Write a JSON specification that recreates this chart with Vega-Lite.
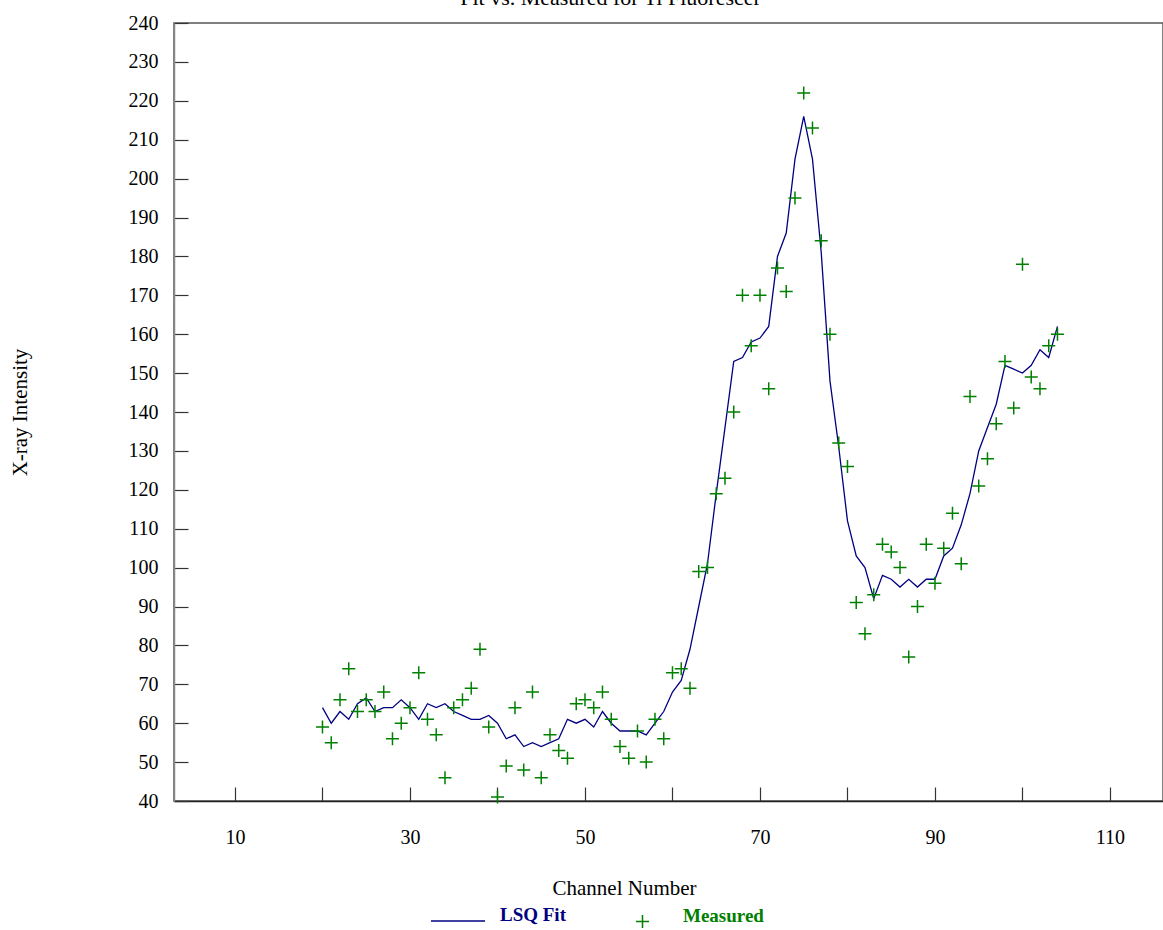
{
  "$schema": "https://vega.github.io/schema/vega-lite/v6.json",
  "width": 989,
  "height": 778,
  "autosize": {"type": "none"},
  "padding": {"left": 174, "top": 23, "right": 0, "bottom": 129},
  "background": "white",
  "title": {"text": "Fit vs. Measured for Ti Fluorescer", "frame": "group", "anchor": "middle", "offset": 0, "baseline": "alphabetic", "dx": -58, "dy": 14, "font": "Liberation Serif", "fontSize": 22, "fontWeight": "normal", "color": "black"},
  "config": {"view": {"stroke": "#555", "strokeWidth": 1.5}, "font": "Liberation Serif"},
  "data": {"values": [
    {"ch": 20, "meas": 59, "fit": 64}, {"ch": 21, "meas": 55, "fit": 60}, {"ch": 22, "meas": 66, "fit": 63}, {"ch": 23, "meas": 74, "fit": 61},
    {"ch": 24, "meas": 63, "fit": 65}, {"ch": 25, "meas": 66, "fit": 66.5}, {"ch": 26, "meas": 63, "fit": 63}, {"ch": 27, "meas": 68, "fit": 64},
    {"ch": 28, "meas": 56, "fit": 64}, {"ch": 29, "meas": 60, "fit": 66}, {"ch": 30, "meas": 64, "fit": 64}, {"ch": 31, "meas": 73, "fit": 61},
    {"ch": 32, "meas": 61, "fit": 65}, {"ch": 33, "meas": 57, "fit": 64}, {"ch": 34, "meas": 46, "fit": 65}, {"ch": 35, "meas": 64, "fit": 63},
    {"ch": 36, "meas": 66, "fit": 62}, {"ch": 37, "meas": 69, "fit": 61}, {"ch": 38, "meas": 79, "fit": 61}, {"ch": 39, "meas": 59, "fit": 62},
    {"ch": 40, "meas": 41, "fit": 60}, {"ch": 41, "meas": 49, "fit": 56}, {"ch": 42, "meas": 64, "fit": 57}, {"ch": 43, "meas": 48, "fit": 54},
    {"ch": 44, "meas": 68, "fit": 55}, {"ch": 45, "meas": 46, "fit": 54}, {"ch": 46, "meas": 57, "fit": 55}, {"ch": 47, "meas": 53, "fit": 56},
    {"ch": 48, "meas": 51, "fit": 61}, {"ch": 49, "meas": 65, "fit": 60}, {"ch": 50, "meas": 66, "fit": 61}, {"ch": 51, "meas": 64, "fit": 59},
    {"ch": 52, "meas": 68, "fit": 63}, {"ch": 53, "meas": 61, "fit": 60}, {"ch": 54, "meas": 54, "fit": 58}, {"ch": 55, "meas": 51, "fit": 58},
    {"ch": 56, "meas": 58, "fit": 58}, {"ch": 57, "meas": 50, "fit": 57}, {"ch": 58, "meas": 61, "fit": 60}, {"ch": 59, "meas": 56, "fit": 63},
    {"ch": 60, "meas": 73, "fit": 68}, {"ch": 61, "meas": 74, "fit": 71}, {"ch": 62, "meas": 69, "fit": 79}, {"ch": 63, "meas": 99, "fit": 90},
    {"ch": 64, "meas": 100, "fit": 101}, {"ch": 65, "meas": 119, "fit": 119}, {"ch": 66, "meas": 123, "fit": 136}, {"ch": 67, "meas": 140, "fit": 153},
    {"ch": 68, "meas": 170, "fit": 154}, {"ch": 69, "meas": 157, "fit": 158}, {"ch": 70, "meas": 170, "fit": 159}, {"ch": 71, "meas": 146, "fit": 162},
    {"ch": 72, "meas": 177, "fit": 180}, {"ch": 73, "meas": 171, "fit": 186}, {"ch": 74, "meas": 195, "fit": 205}, {"ch": 75, "meas": 222, "fit": 216},
    {"ch": 76, "meas": 213, "fit": 205}, {"ch": 77, "meas": 184, "fit": 181}, {"ch": 78, "meas": 160, "fit": 148}, {"ch": 79, "meas": 132, "fit": 131},
    {"ch": 80, "meas": 126, "fit": 112}, {"ch": 81, "meas": 91, "fit": 103}, {"ch": 82, "meas": 83, "fit": 100}, {"ch": 83, "meas": 93, "fit": 92},
    {"ch": 84, "meas": 106, "fit": 98}, {"ch": 85, "meas": 104, "fit": 97}, {"ch": 86, "meas": 100, "fit": 95}, {"ch": 87, "meas": 77, "fit": 97},
    {"ch": 88, "meas": 90, "fit": 95}, {"ch": 89, "meas": 106, "fit": 97}, {"ch": 90, "meas": 96, "fit": 97}, {"ch": 91, "meas": 105, "fit": 103},
    {"ch": 92, "meas": 114, "fit": 105}, {"ch": 93, "meas": 101, "fit": 111}, {"ch": 94, "meas": 144, "fit": 119}, {"ch": 95, "meas": 121, "fit": 130},
    {"ch": 96, "meas": 128, "fit": 136}, {"ch": 97, "meas": 137, "fit": 142}, {"ch": 98, "meas": 153, "fit": 152}, {"ch": 99, "meas": 141, "fit": 151},
    {"ch": 100, "meas": 178, "fit": 150}, {"ch": 101, "meas": 149, "fit": 152}, {"ch": 102, "meas": 146, "fit": 156}, {"ch": 103, "meas": 157, "fit": 154},
    {"ch": 104, "meas": 160, "fit": 162}
  ]},
  "encoding": {
    "x": {
      "field": "ch", "type": "quantitative",
      "scale": {"domain": [3.03, 116.06], "nice": false, "zero": false},
      "axis": {
        "title": "Channel Number", "values": [10, 20, 30, 40, 50, 60, 70, 80, 90, 100, 110],
        "labelExpr": "datum.value % 20 == 10 ? datum.label : ''",
        "tickSize": -14, "tickColor": "#333", "tickWidth": 1.2, "labelPadding": 40,
        "domainColor": "#222", "domainWidth": 1.5, "grid": false,
        "labelFont": "Liberation Serif", "labelFontSize": 20, "labelColor": "black",
        "labelFlush": false, "labelOverlap": false,
        "titleFont": "Liberation Serif", "titleFontSize": 21, "titleFontWeight": "normal", "titleColor": "black",
        "titleX": 450, "titleY": 87, "titleAlign": "center", "titleBaseline": "middle"
      }
    }
  },
  "layer": [
    {
      "mark": {"type": "line", "strokeWidth": 1.3},
      "encoding": {
        "y": {
          "field": "fit", "type": "quantitative",
          "scale": {"domain": [40, 240], "nice": false, "zero": false},
          "axis": {
            "title": "X-ray Intensity", "values": [40, 50, 60, 70, 80, 90, 100, 110, 120, 130, 140, 150, 160, 170, 180, 190, 200, 210, 220, 230, 240],
            "tickSize": -14, "tickColor": "#333", "tickWidth": 1.2, "labelPadding": 30,
            "domainColor": "#888", "domainWidth": 1.5, "grid": false,
            "labelFont": "Liberation Serif", "labelFontSize": 20, "labelColor": "black",
            "labelFlush": false, "labelOverlap": false, "labelBaseline": "middle", "labelAlign": "right",
            "titleFont": "Liberation Serif", "titleFontSize": 21, "titleFontWeight": "normal", "titleColor": "black",
            "titleX": -154, "titleY": 389, "titleAngle": -90, "titleAlign": "center", "titleBaseline": "middle"
          }
        },
        "color": {
          "datum": "LSQ Fit",
          "scale": {"domain": ["LSQ Fit"], "range": ["#000080"]},
          "legend": {
            "title": null, "orient": "none", "legendX": 256, "legendY": 870, "padding": 0,
            "symbolType": "stroke", "symbolSize": 2916, "symbolStrokeWidth": 1.3, "symbolStrokeColor": "#000080",
            "labelFont": "Liberation Serif", "labelFontSize": 19, "labelFontWeight": "bold", "labelColor": "#000080", "labelOffset": 14,
            "labelBaseline": "alphabetic"
          }
        }
      }
    },
    {
      "mark": {"type": "point", "shape": "M-1,0H1M0,-1V1", "filled": false, "strokeWidth": 1.5, "size": 169, "color": "#008000", "opacity": 1},
      "encoding": {
        "y": {
          "field": "meas", "type": "quantitative",
          "axis": {
            "title": "X-ray Intensity", "values": [40, 50, 60, 70, 80, 90, 100, 110, 120, 130, 140, 150, 160, 170, 180, 190, 200, 210, 220, 230, 240],
            "tickSize": -14, "tickColor": "#333", "tickWidth": 1.2, "labelPadding": 30,
            "domainColor": "#888", "domainWidth": 1.5, "grid": false,
            "labelFont": "Liberation Serif", "labelFontSize": 20, "labelColor": "black",
            "labelFlush": false, "labelOverlap": false, "labelBaseline": "middle", "labelAlign": "right",
            "titleFont": "Liberation Serif", "titleFontSize": 21, "titleFontWeight": "normal", "titleColor": "black",
            "titleX": -154, "titleY": 389, "titleAngle": -90, "titleAlign": "center", "titleBaseline": "middle"
          }
        },
        "shape": {
          "datum": "Measured",
          "scale": {"domain": ["Measured"], "range": ["M-1,0H1M0,-1V1"]},
          "legend": {
            "title": null, "orient": "none", "legendX": 459, "legendY": 889, "padding": 0,
            "symbolSize": 169, "symbolStrokeWidth": 1.5, "symbolStrokeColor": "#008000", "symbolFillColor": "transparent",
            "labelFont": "Liberation Serif", "labelFontSize": 19, "labelFontWeight": "bold", "labelColor": "#008000", "labelOffset": 31,
            "labelBaseline": "alphabetic"
          }
        }
      }
    }
  ]
}
